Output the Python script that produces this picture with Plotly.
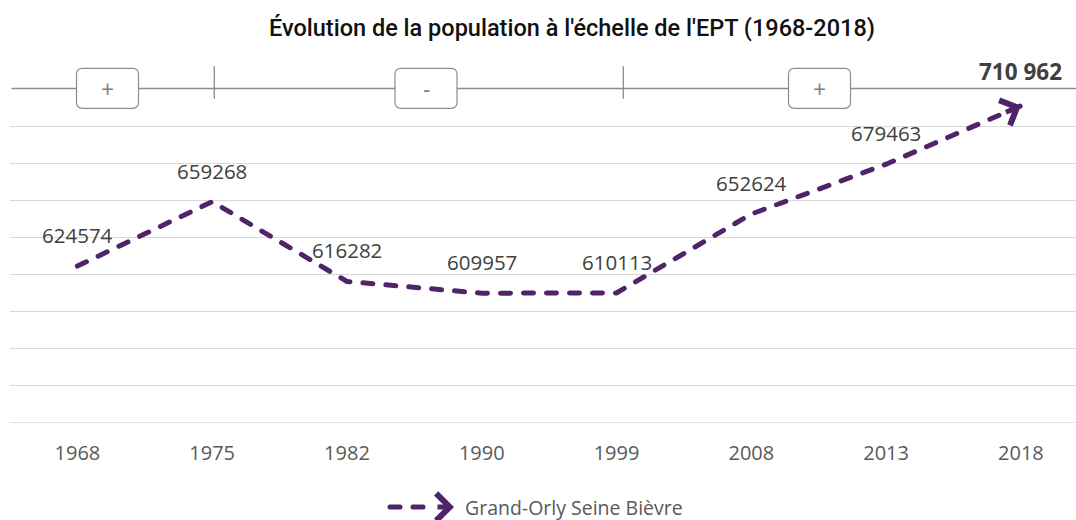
import plotly.graph_objects as go

# ---- data ----
years = ["1968", "1975", "1982", "1990", "1999", "2008", "2013", "2018"]
population = [624574, 659268, 616282, 609957, 610113, 652624, 679463, 710962]
series_name = "Grand-Orly Seine Bièvre"
title_text = "Évolution de la population à l'échelle de l'EPT (1968-2018)"
trend_signs = ["+", "-", "+"]

# ---- layout geometry (pixels) ----
FW, FH = 1076, 520
L, R, T, B = 10, 1076, 89, 423
PW, PH = R - L, B - T
Y0, Y1 = 540000, 720000
CAT_W = 134.8

def px(x):
    return (x - L) / PW

def py(y):
    return (B - y) / PH

PURPLE = "#50246a"
DASH = "10px,13px"

fig = go.Figure()
fig.add_trace(go.Scatter(
    x=years, y=population, mode="lines", name=series_name,
    line=dict(color=PURPLE, width=5, dash=DASH),
    showlegend=False, hoverinfo="x+y",
))

annotations = []
# data labels
for i, (yr, v) in enumerate(zip(years, population)):
    last = i == len(years) - 1
    if last:
        txt = "<b>" + f"{v:,}".replace(",", " ") + "</b>"
        annotations.append(dict(x=i, y=v, xref="x", yref="y", text=txt, showarrow=False,
                                yshift=34, font=dict(family="Open Sans", size=22.5, color="#404040")))
    else:
        annotations.append(dict(x=i, y=v, xref="x", yref="y", text=str(v), showarrow=False,
                                yshift=31, font=dict(family="Open Sans", size=20.5, color="#404040")))

# arrow head at the end of the series (tail a short distance back along the last segment)
n = len(years) - 1
seg_dx = CAT_W
seg_dy = (population[n] - population[n - 1]) * PH / (Y1 - Y0)
seg_len = (seg_dx ** 2 + seg_dy ** 2) ** 0.5
frac = 1 - 18 / seg_len
annotations.append(dict(
    x=n, y=population[n], xref="x", yref="y",
    ax=n - (1 - frac), ay=population[n - 1] + frac * (population[n] - population[n - 1]),
    axref="x", ayref="y", text="", showarrow=True, arrowhead=4, arrowsize=1.05,
    arrowwidth=5, arrowcolor=PURPLE, standoff=0,
))

# legend (manual)
annotations.append(dict(
    x=px(454), y=py(507), xref="paper", yref="paper", ax=-18, ay=0,
    text="", showarrow=True, arrowhead=4, arrowsize=1.05, arrowwidth=5,
    arrowcolor=PURPLE, standoff=0,
))
annotations.append(dict(
    x=px(463), y=py(507), xref="paper", yref="paper", xanchor="left", yanchor="middle",
    text=series_name, showarrow=False,
    font=dict(family="Open Sans", size=19.5, color="#595959"),
))

# trend boxes
box_centers = [107.5, 426, 819.5]
for cx, s in zip(box_centers, trend_signs):
    annotations.append(dict(
        x=px(cx), y=py(89), xref="paper", yref="paper", text=s, showarrow=False,
        xanchor="center", yanchor="middle",
        font=dict(family="Open Sans", size=23, color="#7f7f7f"),
    ))

shapes = []
GREY = "#8c8c8c"
GRID = "#d9d9d9"
# bottom gridline (at the axis minimum, which plotly does not draw)
shapes.append(dict(type="line", xref="paper", yref="y", x0=0, x1=1, y0=Y0, y1=Y0,
                   line=dict(color=GRID, width=1.3), layer="below"))
shapes.append(dict(type="line", xref="paper", yref="paper", x0=px(12), x1=px(1076),
                   y0=py(88.5), y1=py(88.5), line=dict(color=GREY, width=1.5), layer="above"))
for tx in [214.3, 623.3]:
    shapes.append(dict(type="line", xref="paper", yref="paper", x0=px(tx), x1=px(tx),
                       y0=py(66.7), y1=py(98.3), line=dict(color=GREY, width=1.3), layer="above"))

def rounded_rect(x0, y0, x1, y1, r):
    pts = [
        ("M", [(x0 + r, y0)]), ("L", [(x1 - r, y0)]), ("Q", [(x1, y0), (x1, y0 + r)]),
        ("L", [(x1, y1 - r)]), ("Q", [(x1, y1), (x1 - r, y1)]), ("L", [(x0 + r, y1)]),
        ("Q", [(x0, y1), (x0, y1 - r)]), ("L", [(x0, y0 + r)]), ("Q", [(x0, y0), (x0 + r, y0)]),
    ]
    out = ""
    for cmd, coords in pts:
        out += cmd + " ".join(f"{px(a):.5f},{py(b):.5f}" for a, b in coords) + " "
    return out + "Z"

for cx in box_centers:
    shapes.append(dict(type="path", xref="paper", yref="paper",
                       path=rounded_rect(cx - 31, 68.3, cx + 31, 108.3, 6),
                       fillcolor="white", line=dict(color=GREY, width=1.2), layer="above"))

# legend dashed line
shapes.append(dict(type="line", xref="paper", yref="paper", x0=px(390), x1=px(430),
                   y0=py(507), y1=py(507), line=dict(color=PURPLE, width=5, dash=DASH),
                   layer="above"))

fig.update_layout(
    width=FW, height=FH,
    margin=dict(l=L, r=FW - R, t=T, b=FH - B, pad=0),
    paper_bgcolor="white", plot_bgcolor="white",
    title=dict(text=title_text, x=572 / FW, y=1 - 28 / FH, xref="container", yref="container",
               xanchor="center", yanchor="middle",
               font=dict(family="Roboto", size=23.5, color="#111111", weight=500)),
    xaxis=dict(type="category", range=[-0.5, (R - 77.3) / CAT_W], showgrid=False,
               showline=False, zeroline=False, ticks="", ticklabelstandoff=16,
               tickfont=dict(family="Open Sans", size=20, color="#595959")),
    yaxis=dict(range=[Y0, Y1], dtick=20000, showgrid=True, gridcolor=GRID,
               gridwidth=1.3, showticklabels=False, zeroline=False, showline=False, ticks=""),
    annotations=annotations, shapes=shapes, showlegend=False,
)

post = """
document.body.style.margin = '0';
document.documentElement.style.margin = '0';
var gd = document.getElementById('{plot_id}');
function rc(){ gd.querySelectorAll('.scatterlayer .js-line, .shapelayer path').forEach(function(p){ p.style.strokeLinecap='round'; }); }
rc(); gd.on('plotly_afterplot', rc);
"""
fig.write_html("out.html", post_script=post, config={"displayModeBar": False})
